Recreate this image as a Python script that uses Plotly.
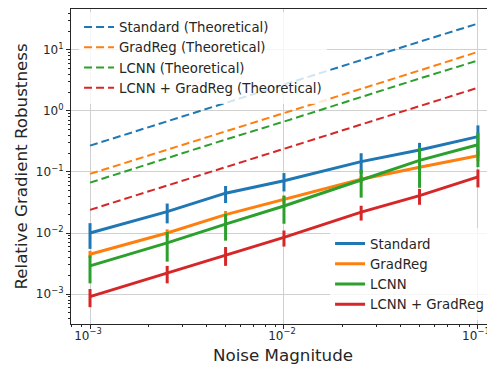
import plotly.graph_objects as go

noise = [0.001, 0.0025, 0.005, 0.01, 0.025, 0.05, 0.1]

# Theoretical curves
theo_standard = [0.27, 0.68, 1.36, 2.7, 6.8, 13.6, 27.0]
theo_gradreg = [0.093, 0.23, 0.46, 0.93, 2.3, 4.6, 9.3]
theo_lcnn = [0.067, 0.17, 0.34, 0.67, 1.7, 3.4, 6.7]
theo_lcnn_gradreg = [0.024, 0.06, 0.12, 0.24, 0.6, 1.2, 2.4]

# Measured curves (mean and symmetric error)
std_mean = [0.010, 0.0224, 0.045, 0.072, 0.148, 0.23, 0.38]
std_err = [0.0045, 0.008, 0.014, 0.024, 0.055, 0.07, 0.2]
gr_mean = [0.0045, 0.010, 0.020, 0.0355, 0.076, 0.12, 0.185]
gr_err = [0.0006, 0.0015, 0.003, 0.005, 0.01, 0.02, 0.035]
lc_mean = [0.0029, 0.0069, 0.014, 0.0277, 0.074, 0.155, 0.28]
lc_err = [0.0014, 0.0035, 0.0065, 0.0135, 0.036, 0.1, 0.16]
lg_mean = [0.00091, 0.0022, 0.0044, 0.0085, 0.022, 0.041, 0.083]
lg_err = [0.0003, 0.0007, 0.0015, 0.0025, 0.006, 0.012, 0.027]

# Tick labels
x_tickvals = [0.001, 0.01, 0.1]
x_ticktext = ["10<sup>\u22123</sup>", "10<sup>\u22122</sup>", "10<sup>\u22121</sup>"]
y_tickvals = [0.001, 0.01, 0.1, 1, 10]
y_ticktext = ["10<sup>\u22123</sup>", "10<sup>\u22122</sup>", "10<sup>\u22121</sup>",
              "10<sup>0</sup>", "10<sup>1</sup>"]

colors = ["#1f77b4", "#ff7f0e", "#2ca02c", "#d62728"]
theo_names = ["Standard (Theoretical)", "GradReg (Theoretical)",
              "LCNN (Theoretical)", "LCNN + GradReg (Theoretical)"]
meas_names = ["Standard", "GradReg", "LCNN", "LCNN + GradReg"]

fig = go.Figure()
for name, ys, c in zip(theo_names,
                       [theo_standard, theo_gradreg, theo_lcnn, theo_lcnn_gradreg],
                       colors):
    fig.add_trace(go.Scatter(x=noise, y=ys, mode="lines", name=name,
                             line=dict(color=c, width=2, dash="8px,4px"),
                             legend="legend"))

for name, ys, es, c in zip(meas_names,
                           [std_mean, gr_mean, lc_mean, lg_mean],
                           [std_err, gr_err, lc_err, lg_err], colors):
    fig.add_trace(go.Scatter(x=noise, y=ys, mode="lines", name=name,
                             line=dict(color=c, width=3),
                             error_y=dict(type="data", array=es, symmetric=True,
                                          color=c, thickness=3, width=0),
                             legend="legend2"))

def minor_vals(lo, hi):
    vals = []
    for e in range(lo, hi + 1):
        for m in range(2, 10):
            vals.append(m * 10.0 ** e)
    return vals

# page body adds an 8px offset; figure is sized to fill the rest of the window
fig.update_layout(
    width=487, height=357,
    margin=dict(l=63, r=0, t=1, b=41, autoexpand=False),
    paper_bgcolor="white", plot_bgcolor="white",
    font=dict(family="DejaVu Sans", size=12, color="#262626"),
    legend=dict(x=0.019, y=0.991, xanchor="left", yanchor="top",
                bgcolor="rgba(255,255,255,0.8)", font=dict(size=13.3),
                tracegroupgap=0, itemwidth=30),
    legend2=dict(x=0.611, y=0.304, xanchor="left", yanchor="top",
                 bgcolor="rgba(255,255,255,0.8)", font=dict(size=13.3),
                 tracegroupgap=0, itemwidth=30),
    annotations=[
        dict(text="Noise Magnitude", xref="paper", yref="paper",
             x=0.5, y=-0.0984, xanchor="center", yanchor="middle",
             showarrow=False, font=dict(size=16.7)),
        dict(text="Relative Gradient Robustness", xref="paper", yref="paper",
             x=-0.120, y=0.5, xanchor="center", yanchor="middle",
             textangle=-90, showarrow=False, font=dict(size=16.7)),
    ],
)
fig.update_xaxes(
    type="log", range=[-3.098, -0.912], automargin=False,
    tickmode="array", tickvals=x_tickvals, ticktext=x_ticktext,
    tickfont=dict(size=12), ticklabelstandoff=-4, ticklabelshift=-2,
    showline=True, linecolor="#262626", linewidth=1.2, mirror=True,
    ticks="outside", ticklen=4, tickcolor="#262626",
    minor=dict(tickmode="array", tickvals=minor_vals(-4, -1), ticks="outside",
               ticklen=2, tickcolor="#262626", showgrid=False),
    showgrid=True, gridcolor="#d0d0d0", gridwidth=1, zeroline=False,
)
fig.update_yaxes(
    type="log", range=[-3.49, 1.67], automargin=False,
    tickmode="array", tickvals=y_tickvals, ticktext=y_ticktext,
    tickfont=dict(size=12),
    showline=True, linecolor="#262626", linewidth=1.2, mirror=False,
    ticks="outside", ticklen=4, tickcolor="#262626",
    minor=dict(tickmode="array", tickvals=minor_vals(-4, 1), ticks="outside",
               ticklen=2, tickcolor="#262626", showgrid=False),
    showgrid=True, gridcolor="#d0d0d0", gridwidth=1, zeroline=False,
)

fig.write_html("out.html")
